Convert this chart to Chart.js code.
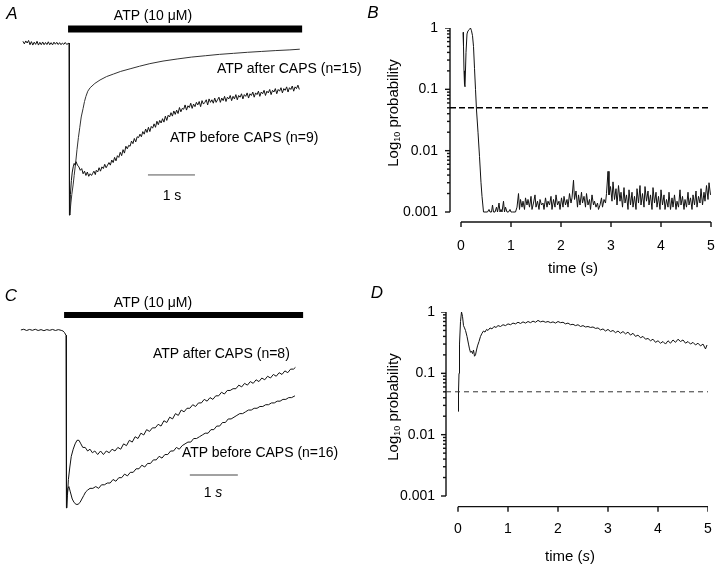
<!DOCTYPE html>
<html>
<head>
<meta charset="utf-8">
<script src="https://cdn.jsdelivr.net/npm/chart.js@4.4.1/dist/chart.umd.min.js"></script>
<style>
  html, body { margin: 0; padding: 0; background: #fff; overflow: hidden; }
  #fig { position: relative; width: 720px; height: 569px; font-family: "Liberation Sans", Arial, sans-serif; color: #000; }
  #fig canvas { position: absolute; }
  .t { position: absolute; white-space: nowrap; font-size: 14px; line-height: 1; }
  .c { transform: translate(-50%, -50%); }
  .l { transform: translate(0, -50%); }
  .panel { font-size: 17px; font-style: italic; }
  .ytitle { font-size: 15px; transform: translate(-50%, -50%) rotate(-90deg); }
  .ytitle sub { font-size: 9px; vertical-align: -2px; }
  .xtitle { font-size: 15px; }
</style>
</head>
<body>
<div id="fig">
  <canvas id="chartA" width="360" height="230" style="left:0;top:0"></canvas>
  <canvas id="chartB" width="372" height="290" style="left:360px;top:0"></canvas>
  <canvas id="chartC" width="360" height="260" style="left:0;top:270px"></canvas>
  <canvas id="chartD" width="372" height="289" style="left:360px;top:280px"></canvas>

  <div class="t c panel" style="left:12px;top:13px">A</div>
  <div class="t c panel" style="left:373px;top:12px">B</div>
  <div class="t c panel" style="left:11px;top:295px">C</div>
  <div class="t c panel" style="left:377px;top:292px">D</div>

  <div class="t c" style="left:153px;top:15px">ATP (10 μM)</div>
  <div class="t l" style="left:217px;top:68px">ATP after CAPS (n=15)</div>
  <div class="t l" style="left:170px;top:137px">ATP before CAPS (n=9)</div>
  <div class="t c" style="left:172px;top:195px">1 s</div>

  <div class="t c" style="left:153px;top:302px">ATP (10 μM)</div>
  <div class="t l" style="left:153px;top:353px">ATP after CAPS (n=8)</div>
  <div class="t l" style="left:182px;top:452px">ATP before CAPS (n=16)</div>
  <div class="t c" style="left:213px;top:492px">1 <i>s</i></div>

  <div class="t ytitle" style="left:393px;top:113px">Log<sub>10</sub> probability</div>
  <div class="t c xtitle" style="left:573px;top:267px">time (s)</div>
  <div class="t ytitle" style="left:393px;top:407px">Log<sub>10</sub> probability</div>
  <div class="t c xtitle" style="left:570px;top:555px">time (<i>s</i>)</div>
</div>

<script>
// ---- panel A : currents, time (s) vs normalised current ----
const atpBarA = [-0.02, 4.96];
const scaleBarA = [1.68, 2.68];
const baselineA = [
  [-0.98, 0.01], [-0.95, -0.005], [-0.92, 0.012], [-0.89, 0.0], [-0.86, 0.015], [-0.83, -0.01],
  [-0.8, 0.008], [-0.77, -0.012], [-0.74, 0.005], [-0.71, -0.008], [-0.68, 0.01], [-0.65, -0.012],
  [-0.62, 0.004], [-0.59, -0.01], [-0.56, 0.006], [-0.53, -0.01], [-0.5, 0.003], [-0.47, -0.009],
  [-0.44, 0.007], [-0.41, -0.01], [-0.38, 0.002], [-0.35, -0.011], [-0.32, 0.005], [-0.29, -0.007],
  [-0.26, 0.004], [-0.23, -0.009], [-0.2, 0.002], [-0.17, -0.01], [-0.14, 0.0], [-0.11, -0.008],
  [-0.08, 0.003], [-0.05, -0.008], [-0.02, -0.004], [0.0, 0.0], [0.01, -1.0]
];
const afterCapsA = [
  [0.01, -1.0], [0.02, -0.99], [0.04, -0.93], [0.06, -0.88], [0.09, -0.82], [0.11, -0.77],
  [0.14, -0.7], [0.17, -0.62], [0.2, -0.55], [0.23, -0.49], [0.26, -0.43], [0.3, -0.38],
  [0.33, -0.34], [0.36, -0.31], [0.4, -0.28], [0.45, -0.26], [0.55, -0.235], [0.66, -0.215],
  [0.8, -0.195], [0.95, -0.18], [1.1, -0.165], [1.3, -0.15], [1.5, -0.135], [1.72, -0.12],
  [2.0, -0.105], [2.3, -0.093], [2.6, -0.082], [2.9, -0.074], [3.2, -0.066], [3.5, -0.06],
  [3.8, -0.054], [4.1, -0.049], [4.4, -0.044], [4.7, -0.04], [4.91, -0.036]
];
const beforeCapsA = [
  [0.01, -1.0], [0.02, -0.95], [0.03, -0.88], [0.05, -0.8], [0.07, -0.75], [0.09, -0.72],
  [0.11, -0.7], [0.13, -0.71], [0.15, -0.69], [0.18, -0.71], [0.21, -0.72], [0.24, -0.74],
  [0.27, -0.73], [0.3, -0.76], [0.33, -0.745], [0.36, -0.77], [0.39, -0.75], [0.42, -0.775],
  [0.45, -0.76], [0.48, -0.77], [0.5, -0.76], [0.53, -0.745], [0.56, -0.765], [0.58, -0.74],
  [0.61, -0.75], [0.64, -0.725], [0.67, -0.745], [0.7, -0.72], [0.73, -0.73], [0.76, -0.705],
  [0.79, -0.725], [0.82, -0.71], [0.85, -0.695], [0.88, -0.71], [0.91, -0.68], [0.94, -0.695],
  [0.97, -0.665], [1.0, -0.685], [1.03, -0.655], [1.06, -0.665], [1.09, -0.635], [1.12, -0.655],
  [1.15, -0.62], [1.18, -0.64], [1.21, -0.6], [1.24, -0.615], [1.27, -0.595], [1.3, -0.6],
  [1.33, -0.57], [1.36, -0.585], [1.39, -0.555], [1.42, -0.575], [1.45, -0.545], [1.48, -0.55],
  [1.51, -0.53], [1.54, -0.545], [1.57, -0.515], [1.6, -0.53], [1.63, -0.5], [1.66, -0.52],
  [1.69, -0.49], [1.72, -0.515], [1.75, -0.485], [1.78, -0.495], [1.81, -0.47], [1.84, -0.49],
  [1.87, -0.455], [1.9, -0.475], [1.93, -0.45], [1.96, -0.465], [1.99, -0.44], [2.02, -0.46],
  [2.05, -0.425], [2.08, -0.45], [2.11, -0.42], [2.14, -0.43], [2.17, -0.405], [2.2, -0.425],
  [2.23, -0.395], [2.26, -0.415], [2.29, -0.39], [2.32, -0.41], [2.35, -0.375], [2.38, -0.4],
  [2.41, -0.38], [2.44, -0.385], [2.47, -0.36], [2.5, -0.39], [2.53, -0.365], [2.56, -0.375],
  [2.59, -0.35], [2.62, -0.38], [2.65, -0.355], [2.68, -0.37], [2.71, -0.345], [2.74, -0.36],
  [2.77, -0.34], [2.8, -0.37], [2.83, -0.335], [2.86, -0.355], [2.89, -0.345], [2.92, -0.33],
  [2.95, -0.36], [2.98, -0.325], [3.01, -0.345], [3.04, -0.33], [3.07, -0.35], [3.1, -0.32],
  [3.13, -0.345], [3.16, -0.33], [3.19, -0.315], [3.22, -0.345], [3.25, -0.32], [3.28, -0.335],
  [3.31, -0.31], [3.34, -0.34], [3.37, -0.315], [3.4, -0.325], [3.43, -0.305], [3.46, -0.335],
  [3.49, -0.31], [3.52, -0.325], [3.55, -0.3], [3.58, -0.33], [3.61, -0.305], [3.64, -0.315],
  [3.67, -0.295], [3.7, -0.325], [3.73, -0.3], [3.76, -0.31], [3.79, -0.29], [3.82, -0.32],
  [3.85, -0.295], [3.88, -0.305], [3.91, -0.285], [3.94, -0.315], [3.97, -0.29], [4.0, -0.3],
  [4.03, -0.28], [4.06, -0.31], [4.09, -0.285], [4.12, -0.295], [4.15, -0.275], [4.18, -0.305],
  [4.21, -0.28], [4.24, -0.29], [4.27, -0.27], [4.3, -0.3], [4.33, -0.275], [4.36, -0.285],
  [4.39, -0.265], [4.42, -0.295], [4.45, -0.27], [4.48, -0.28], [4.51, -0.26], [4.54, -0.29],
  [4.57, -0.265], [4.6, -0.275], [4.63, -0.255], [4.66, -0.285], [4.69, -0.26], [4.72, -0.27],
  [4.75, -0.25], [4.78, -0.28], [4.81, -0.255], [4.84, -0.265], [4.87, -0.245], [4.9, -0.27]
];

// ---- panel C ----
const atpBarC = [-0.04, 4.94];
const scaleBarC = [2.58, 3.58];
const baselineC = [
  [-0.94, 0.0], [-0.88, 0.004], [-0.82, -0.003], [-0.76, 0.003], [-0.7, -0.002], [-0.64, 0.004],
  [-0.58, -0.003], [-0.52, 0.002], [-0.46, -0.004], [-0.4, 0.002], [-0.34, -0.002], [-0.28, 0.003],
  [-0.22, -0.003], [-0.16, 0.002], [-0.1, -0.002], [-0.06, -0.006], [-0.03, -0.015], [0.0, -0.03],
  [0.01, -1.0]
];
const afterCapsC = [
  [0.01, -1.0], [0.03, -0.93], [0.05, -0.84], [0.08, -0.77], [0.11, -0.71], [0.15, -0.67],
  [0.19, -0.64], [0.23, -0.62], [0.27, -0.62], [0.31, -0.64], [0.35, -0.66], [0.4, -0.66],
  [0.45, -0.68], [0.5, -0.67], [0.55, -0.69], [0.6, -0.68], [0.66, -0.7], [0.72, -0.68],
  [0.78, -0.7], [0.84, -0.68], [0.9, -0.69], [0.96, -0.67], [1.02, -0.68], [1.08, -0.66],
  [1.14, -0.67], [1.2, -0.64], [1.26, -0.65], [1.32, -0.62], [1.38, -0.63], [1.44, -0.6],
  [1.5, -0.61], [1.56, -0.58], [1.62, -0.59], [1.68, -0.56], [1.74, -0.57], [1.8, -0.55],
  [1.86, -0.55], [1.92, -0.53], [1.98, -0.54], [2.04, -0.51], [2.1, -0.52], [2.16, -0.49],
  [2.22, -0.5], [2.28, -0.47], [2.34, -0.48], [2.4, -0.45], [2.46, -0.46], [2.52, -0.44],
  [2.58, -0.44], [2.64, -0.42], [2.7, -0.43], [2.76, -0.41], [2.82, -0.41], [2.88, -0.39],
  [2.94, -0.4], [3.0, -0.38], [3.06, -0.39], [3.12, -0.37], [3.18, -0.37], [3.24, -0.35],
  [3.3, -0.36], [3.36, -0.34], [3.42, -0.34], [3.48, -0.33], [3.54, -0.33], [3.6, -0.31],
  [3.66, -0.32], [3.72, -0.3], [3.78, -0.31], [3.84, -0.29], [3.9, -0.3], [3.96, -0.28],
  [4.02, -0.29], [4.08, -0.27], [4.14, -0.28], [4.2, -0.26], [4.26, -0.27], [4.32, -0.25],
  [4.38, -0.26], [4.44, -0.24], [4.5, -0.25], [4.56, -0.23], [4.62, -0.24], [4.68, -0.22],
  [4.74, -0.22], [4.78, -0.21]
];
const beforeCapsC = [
  [0.01, -1.0], [0.02, -0.94], [0.04, -0.89], [0.06, -0.88], [0.09, -0.91], [0.13, -0.95],
  [0.17, -0.97], [0.21, -0.98], [0.25, -0.98], [0.29, -0.97], [0.33, -0.95], [0.37, -0.93],
  [0.41, -0.91], [0.45, -0.9], [0.5, -0.89], [0.56, -0.89], [0.62, -0.88], [0.68, -0.89],
  [0.74, -0.87], [0.8, -0.87], [0.86, -0.86], [0.92, -0.86], [0.98, -0.84], [1.04, -0.85],
  [1.1, -0.83], [1.16, -0.83], [1.22, -0.81], [1.28, -0.82], [1.34, -0.8], [1.4, -0.8],
  [1.46, -0.78], [1.52, -0.78], [1.58, -0.76], [1.64, -0.77], [1.7, -0.75], [1.76, -0.75],
  [1.82, -0.73], [1.88, -0.73], [1.94, -0.71], [2.0, -0.72], [2.06, -0.7], [2.12, -0.7],
  [2.18, -0.68], [2.24, -0.68], [2.3, -0.66], [2.36, -0.67], [2.42, -0.65], [2.48, -0.64],
  [2.54, -0.63], [2.6, -0.63], [2.66, -0.61], [2.72, -0.61], [2.78, -0.6], [2.84, -0.59],
  [2.9, -0.58], [2.96, -0.58], [3.02, -0.56], [3.08, -0.56], [3.14, -0.54], [3.2, -0.54],
  [3.26, -0.52], [3.32, -0.52], [3.38, -0.5], [3.44, -0.5], [3.5, -0.49], [3.56, -0.48],
  [3.62, -0.47], [3.68, -0.47], [3.74, -0.46], [3.8, -0.45], [3.86, -0.45], [3.92, -0.44],
  [3.98, -0.44], [4.04, -0.43], [4.1, -0.43], [4.16, -0.42], [4.22, -0.42], [4.28, -0.41],
  [4.34, -0.41], [4.4, -0.4], [4.46, -0.4], [4.52, -0.39], [4.58, -0.39], [4.64, -0.38],
  [4.7, -0.38], [4.77, -0.37]
];

// ---- panels B and D : probability vs time ----
const timeTicks = [0, 1, 2, 3, 4, 5];
const probTicks = [0.001, 0.01, 0.1, 1];
const threshold = 0.05;
const probB = [
  [0.04, 0.85], [0.05, 0.5], [0.06, 0.2], [0.07, 0.12], [0.08, 0.11], [0.1, 0.4], [0.12, 0.8],
  [0.14, 0.9], [0.17, 0.95], [0.19, 1.0], [0.21, 0.9], [0.23, 0.75], [0.25, 0.5], [0.27, 0.22],
  [0.29, 0.1], [0.31, 0.046], [0.34, 0.02], [0.37, 0.008], [0.4, 0.003], [0.42, 0.0018], [0.45, 0.001],
  [0.5, 0.001], [0.53, 0.001], [0.56, 0.0011], [0.58, 0.001], [0.61, 0.001], [0.63, 0.0013],
  [0.65, 0.001], [0.68, 0.001], [0.71, 0.0012], [0.73, 0.001], [0.76, 0.0014], [0.78, 0.001],
  [0.8, 0.0011], [0.82, 0.001], [0.85, 0.0015], [0.87, 0.001], [0.89, 0.0012], [0.92, 0.001],
  [0.95, 0.001], [0.98, 0.0011], [1.0, 0.001], [1.03, 0.001], [1.06, 0.001], [1.09, 0.001],
  [1.12, 0.0012], [1.15, 0.002], [1.17, 0.0011], [1.19, 0.0016], [1.22, 0.0012], [1.24, 0.0015],
  [1.27, 0.0011], [1.29, 0.0017], [1.32, 0.0013], [1.34, 0.0016], [1.37, 0.0012], [1.4, 0.0018],
  [1.42, 0.0011], [1.45, 0.0014], [1.48, 0.0019], [1.5, 0.0012], [1.53, 0.0015], [1.56, 0.0011],
  [1.58, 0.0016], [1.61, 0.0013], [1.64, 0.0014], [1.66, 0.0011], [1.69, 0.0017], [1.72, 0.0012],
  [1.74, 0.0015], [1.77, 0.0013], [1.8, 0.0018], [1.82, 0.0011], [1.85, 0.0016], [1.88, 0.0012],
  [1.9, 0.0019], [1.93, 0.0013], [1.96, 0.0015], [1.98, 0.0011], [2.01, 0.0017], [2.04, 0.0012],
  [2.06, 0.0018], [2.09, 0.0013], [2.12, 0.0016], [2.14, 0.0012], [2.17, 0.002], [2.2, 0.0014],
  [2.22, 0.0017], [2.25, 0.0033], [2.27, 0.0016], [2.3, 0.0022], [2.33, 0.0012], [2.35, 0.0019],
  [2.38, 0.0013], [2.41, 0.0021], [2.43, 0.0014], [2.46, 0.0018], [2.49, 0.0012], [2.51, 0.002],
  [2.54, 0.0013], [2.57, 0.0016], [2.59, 0.0011], [2.62, 0.0019], [2.65, 0.0013], [2.67, 0.0015],
  [2.7, 0.0012], [2.73, 0.0014], [2.75, 0.0011], [2.78, 0.0013], [2.81, 0.0017], [2.83, 0.0012],
  [2.86, 0.0016], [2.89, 0.0014], [2.91, 0.002], [2.94, 0.0046], [2.96, 0.0019], [2.99, 0.0026],
  [3.02, 0.0015], [3.04, 0.0031], [3.07, 0.0016], [3.1, 0.0024], [3.12, 0.0013], [3.15, 0.0027],
  [3.18, 0.0015], [3.2, 0.0021], [3.23, 0.0012], [3.26, 0.0025], [3.28, 0.0014], [3.31, 0.0019],
  [3.34, 0.0011], [3.36, 0.0023], [3.39, 0.0013], [3.42, 0.0021], [3.44, 0.0012], [3.47, 0.0018],
  [3.5, 0.0011], [3.52, 0.0024], [3.55, 0.0014], [3.58, 0.0027], [3.6, 0.0013], [3.63, 0.002],
  [3.66, 0.0012], [3.68, 0.0026], [3.71, 0.0015], [3.74, 0.0022], [3.76, 0.0013], [3.79, 0.0019],
  [3.82, 0.0011], [3.84, 0.0025], [3.87, 0.0014], [3.9, 0.0021], [3.92, 0.0012], [3.95, 0.0018],
  [3.98, 0.0011], [4.0, 0.0023], [4.03, 0.0013], [4.06, 0.0019], [4.08, 0.0011], [4.11, 0.0016],
  [4.14, 0.0012], [4.16, 0.0021], [4.19, 0.0011], [4.22, 0.0017], [4.24, 0.0012], [4.27, 0.0019],
  [4.3, 0.0011], [4.32, 0.0015], [4.35, 0.0012], [4.38, 0.0023], [4.4, 0.0013], [4.43, 0.0018],
  [4.46, 0.0011], [4.48, 0.0016], [4.51, 0.0012], [4.54, 0.0021], [4.56, 0.0013], [4.59, 0.0017],
  [4.62, 0.0011], [4.64, 0.0019], [4.67, 0.0013], [4.7, 0.0022], [4.72, 0.0012], [4.75, 0.0018],
  [4.78, 0.0014], [4.8, 0.0024], [4.83, 0.0013], [4.86, 0.0021], [4.88, 0.0015], [4.91, 0.0027],
  [4.94, 0.0016], [4.96, 0.003], [4.99, 0.0019]
];
const probD = [
  [0.0, 0.024], [0.01, 0.05], [0.02, 0.1], [0.03, 0.3], [0.05, 0.7], [0.07, 1.0], [0.09, 0.85],
  [0.11, 0.6], [0.13, 0.55], [0.15, 0.5], [0.18, 0.4], [0.21, 0.3], [0.23, 0.25], [0.25, 0.22],
  [0.27, 0.23], [0.29, 0.21], [0.31, 0.24], [0.33, 0.19], [0.35, 0.2], [0.37, 0.24], [0.39, 0.28],
  [0.42, 0.33], [0.45, 0.4], [0.48, 0.45], [0.51, 0.49], [0.54, 0.47], [0.57, 0.52], [0.6, 0.5],
  [0.64, 0.55], [0.68, 0.53], [0.72, 0.58], [0.76, 0.56], [0.8, 0.6], [0.85, 0.58], [0.9, 0.62],
  [0.95, 0.6], [1.0, 0.64], [1.05, 0.62], [1.1, 0.66], [1.15, 0.64], [1.2, 0.68], [1.25, 0.65],
  [1.3, 0.69], [1.35, 0.66], [1.4, 0.7], [1.45, 0.67], [1.5, 0.71], [1.55, 0.68], [1.6, 0.73],
  [1.65, 0.69], [1.7, 0.71], [1.75, 0.68], [1.8, 0.7], [1.85, 0.67], [1.9, 0.69], [1.95, 0.66],
  [2.0, 0.7], [2.05, 0.67], [2.1, 0.68], [2.15, 0.64], [2.2, 0.66], [2.25, 0.62], [2.3, 0.63],
  [2.35, 0.6], [2.4, 0.62], [2.45, 0.58], [2.5, 0.6], [2.55, 0.57], [2.6, 0.58], [2.65, 0.56],
  [2.7, 0.57], [2.75, 0.54], [2.8, 0.55], [2.85, 0.51], [2.9, 0.53], [2.95, 0.49], [3.0, 0.52],
  [3.05, 0.48], [3.1, 0.5], [3.15, 0.46], [3.2, 0.49], [3.25, 0.45], [3.3, 0.48], [3.35, 0.44],
  [3.4, 0.47], [3.45, 0.42], [3.5, 0.45], [3.55, 0.4], [3.6, 0.42], [3.65, 0.38], [3.7, 0.4],
  [3.75, 0.36], [3.8, 0.37], [3.85, 0.34], [3.9, 0.36], [3.95, 0.32], [4.0, 0.34], [4.05, 0.31],
  [4.1, 0.33], [4.15, 0.3], [4.2, 0.34], [4.25, 0.31], [4.3, 0.35], [4.35, 0.32], [4.4, 0.36],
  [4.45, 0.33], [4.5, 0.35], [4.55, 0.31], [4.6, 0.33], [4.65, 0.3], [4.7, 0.32], [4.75, 0.29],
  [4.8, 0.31], [4.85, 0.28], [4.9, 0.3], [4.95, 0.25], [4.98, 0.29]
];

const pts = (arr) => arr.map(([x, y]) => ({ x, y }));

function line(data, width, color, dash) {
  return {
    data: data,
    borderColor: color || "#111",
    borderWidth: width || 1,
    borderDash: dash || [],
    borderCapStyle: "butt",
    pointRadius: 0,
    tension: 0,
    fill: false,
  };
}

const baseOptions = {
  responsive: false,
  animation: false,
  plugins: { legend: { display: false }, tooltip: { enabled: false } },
};

// traces without visible axes (panels A and C)
function traceChart(id, xRange, yRange, datasets) {
  return new Chart(document.getElementById(id), {
    type: "line",
    data: { datasets },
    options: {
      ...baseOptions,
      layout: { padding: 0 },
      scales: {
        x: { type: "linear", display: false, min: xRange[0], max: xRange[1] },
        y: { type: "linear", display: false, min: yRange[0], max: yRange[1] },
      },
    },
  });
}

traceChart("chartA", [-1.468, 6.191], [-1.087, 0.25], [
  line(pts([[atpBarA[0], 0.081], [atpBarA[1], 0.081]]), 7, "#000"),
  line(pts([[scaleBarA[0], -0.767], [scaleBarA[1], -0.767]]), 1, "#555"),
  line(pts(baselineA)),
  line(pts(beforeCapsA)),
  line(pts(afterCapsA), 1, "#333"),
]);

traceChart("chartC", [-1.375, 6.125], [-1.124, 0.337], [
  line(pts([[atpBarC[0], 0.084], [atpBarC[1], 0.084]]), 6, "#000"),
  line(pts([[scaleBarC[0], -0.815], [scaleBarC[1], -0.815]]), 1, "#444"),
  line(pts(baselineC)),
  line(pts(afterCapsC)),
  line(pts(beforeCapsC)),
]);

const tickFont = { family: "'Liberation Sans', Arial, sans-serif", size: 14 };

// each axis line and each tick is its own small two-point dataset
function axisDatasets(cfg) {
  const sets = [];
  const seg = (a, b) => sets.push(line([a, b], 1.4, "#111"));
  const top = probTicks[probTicks.length - 1];
  seg({ x: cfg.yAxisAt, y: top }, { x: cfg.yAxisAt, y: probTicks[0] });
  probTicks.forEach((p, i) => {
    seg({ x: cfg.yAxisAt, y: p }, { x: cfg.yAxisAt - 0.1, y: p });
    if (i < probTicks.length - 1) {
      for (let k = 2; k <= 9; k++) seg({ x: cfg.yAxisAt, y: p * k }, { x: cfg.yAxisAt - 0.06, y: p * k });
    }
  });
  const last = timeTicks[timeTicks.length - 1];
  seg({ x: timeTicks[0], y: cfg.xAxisAt }, { x: last, y: cfg.xAxisAt });
  timeTicks.forEach((t) => seg({ x: t, y: cfg.xAxisAt }, { x: t, y: cfg.xAxisAt * 0.83 }));
  return sets;
}

// plot area slightly larger than the axes so axis lines and ticks sit inside it
function probChart(id, cfg, trace, dash, dashWidth, dashColor) {
  return new Chart(document.getElementById(id), {
    type: "line",
    data: {
      datasets: [
        line(pts([[cfg.yAxisAt, threshold], [timeTicks[timeTicks.length - 1], threshold]]), dashWidth, dashColor, dash),
        line(pts(trace), 1, "#111"),
        ...axisDatasets(cfg),
      ],
    },
    options: {
      ...baseOptions,
      layout: { padding: cfg.padding },
      scales: {
        x: {
          type: "linear",
          min: cfg.xMin,
          max: cfg.xMax,
          grid: { display: false, drawTicks: false },
          border: { display: false },
          afterBuildTicks: (s) => { s.ticks = timeTicks.map((v) => ({ value: v })); },
          afterFit: (s) => { s.height = cfg.xHeight; },
          ticks: { padding: cfg.xPad, color: "#000", font: tickFont, maxRotation: 0, callback: (v) => String(v) },
        },
        y: {
          type: "logarithmic",
          min: cfg.yMin,
          max: probTicks[probTicks.length - 1],
          grid: { display: false, drawTicks: false },
          border: { display: false },
          afterBuildTicks: (s) => { s.ticks = probTicks.map((v) => ({ value: v })); },
          afterFit: (s) => { s.width = cfg.yWidth; },
          ticks: { padding: cfg.yPad, color: "#000", font: tickFont, callback: (v) => String(v) },
        },
      },
    },
  });
}

// canvases are 12px wider than the panel so the right edge lands at the panel edge
probChart("chartB", {
  padding: { top: 28, right: 20, left: 0, bottom: 0 },
  xMin: -0.4, xMax: 5.02, xHeight: 58, xPad: 6,
  yMin: 0.000472, yWidth: 81, yPad: 3,
  xAxisAt: 0.000687, yAxisAt: -0.22,
}, probB, [6, 3], 1.6, "#000");

probChart("chartD", {
  padding: { top: 32, right: 24, left: 0, bottom: 0 },
  xMin: -0.42, xMax: 5.0, xHeight: 54, xPad: 6,
  yMin: 0.00049, yWidth: 77, yPad: 2,
  xAxisAt: 0.00067, yAxisAt: -0.24,
}, probD, [5, 4], 1, "#333");
</script>
</body>
</html>
